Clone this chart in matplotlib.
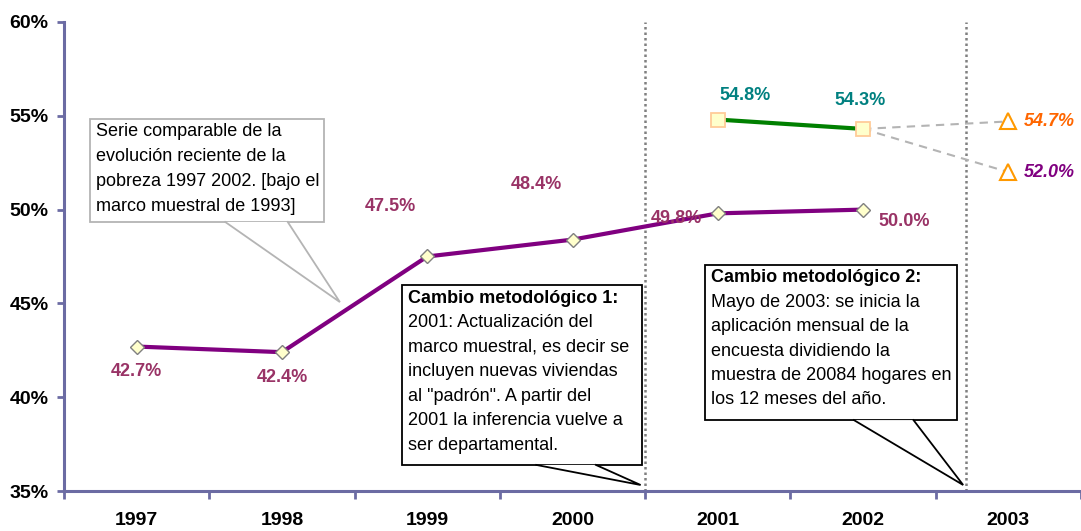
import matplotlib.pyplot as plt
from matplotlib.patches import Rectangle, Polygon

plt.rcParams['font.family'] = ['Liberation Sans', 'DejaVu Sans']

# datos
anios = ['1997', '1998', '1999', '2000', '2001', '2002', '2003']
pobreza_1993 = [42.7, 42.4, 47.5, 48.4, 49.8, 50.0]        # marco muestral 1993
pobreza_2001 = [54.8, 54.3]                                # marco 2001 (2001-2002)
proyeccion_2003 = [54.7, 52.0]                             # estimaciones 2003
colores_proy = ['#FF6600', '#800080']

# posiciones de etiquetas (offset en pixeles)
off_1993 = [(0, -25), (0, -25), (-37, 50), (-36, 55), (-41, -5), (41, -12)]
off_2001 = [(27, 24), (-3, 28)]

eje_color = '#6B6BA3'


def callout(ax, caja, base, punta, lineas, borde, negrita_primera=False, paso=24.5, fs=13):
    x0, y0, x1, y1 = caja
    ax.add_patch(Rectangle((x0, y0), x1 - x0, y1 - y0, facecolor='white',
                           edgecolor=borde, lw=1.3, zorder=5))
    # cola del globo
    ax.add_patch(Polygon([(base[0], y0), (base[1], y0), punta], closed=True,
                         facecolor='white', edgecolor='none', zorder=6))
    ax.plot([base[0], punta[0], base[1]], [y0, punta[1], y0], color=borde,
            lw=1.3, zorder=7, solid_joinstyle='miter')
    for i, t in enumerate(lineas):
        peso = 'bold' if (negrita_primera and i == 0) else 'normal'
        ax.annotate(t, xy=(x0, y1), xytext=(6, -(13 + i * paso)),
                    textcoords='offset pixels', ha='left', va='center',
                    fontsize=fs, fontweight=peso, color='black', zorder=8)


fig = plt.figure(figsize=(10.81, 5.31), dpi=100)
ax = fig.add_axes([64 / 1081, 40 / 531, 1017 / 1081, 469 / 531])

x = list(range(len(anios)))

# lineas verticales de cambio metodologico
for xv in [3.5, 5.71]:
    ax.plot([xv, xv], [35, 60], color='#808080', lw=1.8, ls=(0, (1, 1.2)), zorder=1)

# proyecciones 2003
for v in proyeccion_2003:
    ax.plot([x[5], x[6]], [pobreza_2001[1], v], color='#B4B4B4', lw=1.5,
            ls=(0, (4, 3)), zorder=2)
ax.plot([x[6]] * 2, proyeccion_2003, ls='none', marker='^', ms=11,
        mfc='white', mec='#FF9900', mew=1.5, zorder=4)
for v, c in zip(proyeccion_2003, colores_proy):
    ax.annotate(f'{v:.1f}%', xy=(x[6], v), xytext=(15, 0), textcoords='offset pixels',
                ha='left', va='center', fontsize=13, fontweight='bold',
                fontstyle='italic', color=c)

# serie 1997-2002
ax.plot(x[:6], pobreza_1993, color='#800080', lw=3, marker='D', ms=7,
        mfc='#FFFFCC', mec='#808080', mew=1, zorder=3)
for xi, v, o in zip(x[:6], pobreza_1993, off_1993):
    ax.annotate(f'{v:.1f}%', xy=(xi, v), xytext=o, textcoords='offset pixels',
                ha='center', va='center', fontsize=13, fontweight='bold', color='#993366')

# serie 2001-2002
ax.plot(x[4:6], pobreza_2001, color='#008000', lw=3, marker='s', ms=10,
        mfc='#FFFFCC', mec='#FFCC99', mew=1.3, zorder=3)
for xi, v, o in zip(x[4:6], pobreza_2001, off_2001):
    ax.annotate(f'{v:.1f}%', xy=(xi, v), xytext=o, textcoords='offset pixels',
                ha='center', va='center', fontsize=13, fontweight='bold', color='#008080')

# globos de texto
callout(ax, (-0.322, 49.34, 1.29, 54.83), (0.61, 1.04), (1.399, 45.07),
        ['Serie comparable de la', 'evolución reciente de la',
         'pobreza 1997 2002. [bajo el', 'marco muestral de 1993]'],
        '#B4B4B4', paso=25)
callout(ax, (1.829, 36.39, 3.475, 45.98), (2.751, 3.161), (3.469, 35.32),
        ['Cambio metodológico 1:', '2001: Actualización del',
         'marco muestral, es decir se', 'incluyen nuevas viviendas',
         'al "padrón". A partir del', '2001 la inferencia vuelve a',
         'ser departamental.'],
        'black', negrita_primera=True)
callout(ax, (3.913, 38.78, 5.648, 47.05), (4.937, 5.347), (5.689, 35.32),
        ['Cambio metodológico 2:', 'Mayo de 2003: se inicia la',
         'aplicación mensual de la', 'encuesta dividiendo la',
         'muestra de 20084 hogares en', 'los 12 meses del año.'],
        'black', negrita_primera=True, paso=24.4)

# ejes
ax.set_xlim(-0.5, 6.447)
ax.set_ylim(35, 60)
for s in ['top', 'right']:
    ax.spines[s].set_visible(False)
for s in ['left', 'bottom']:
    ax.spines[s].set_color(eje_color)
    ax.spines[s].set_linewidth(2.2)
    ax.spines[s].set_zorder(9)

ax.set_yticks([35, 40, 45, 50, 55, 60])
ax.set_yticklabels([f'{v}%' for v in [35, 40, 45, 50, 55, 60]],
                   fontsize=14, fontweight='bold')
ax.tick_params(axis='y', direction='out', length=5, width=2, color=eje_color, pad=6)

ax.set_xticks([i - 0.5 for i in range(len(anios) + 1)])
ax.set_xticklabels([])
ax.tick_params(axis='x', which='major', direction='out', length=6, width=2, color=eje_color)
ax.set_xticks(x, minor=True)
ax.set_xticklabels(anios, minor=True, fontsize=14, fontweight='bold')
ax.tick_params(axis='x', which='minor', length=0, pad=15)

fig.savefig('out.png', dpi=100)
